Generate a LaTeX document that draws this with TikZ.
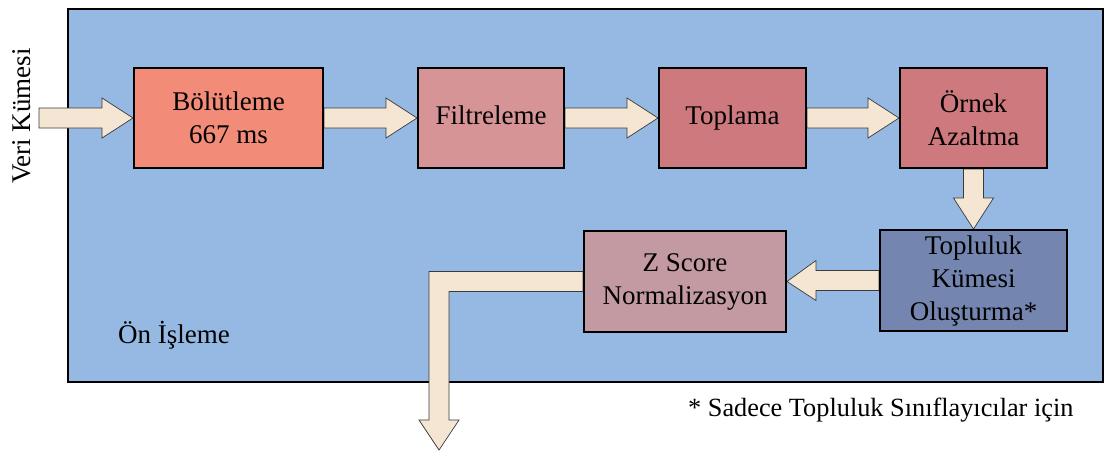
\documentclass[tikz,border=0pt]{standalone}
\usepackage{fontspec}
\setmainfont{Liberation Serif}
\usetikzlibrary{calc}

\pgfdeclarelayer{panel}
\pgfdeclarelayer{flow}
\pgfsetlayers{panel,flow,main}

\definecolor{panelblue}{HTML}{95B9E2}
\definecolor{segcol}{HTML}{F28C78}
\definecolor{filtcol}{HTML}{D79497}
\definecolor{sumcol}{HTML}{CD797E}
\definecolor{enscol}{HTML}{7486B0}
\definecolor{zcol}{HTML}{C49AA2}
\definecolor{flowfill}{HTML}{F5E6D3}
\definecolor{flowline}{HTML}{3A3A3A}

\tikzset{
  stage/.style={draw=black, line width=2pt, inner sep=0pt, align=center,
    minimum height=100pt, font=\fontsize{27}{33}\selectfont},
  label/.style={inner sep=0pt, font=\fontsize{27}{33}\selectfont},
  barrow/.style={draw=flowline, line width=0.7pt, fill=flowfill, line join=miter}
}

% block arrows: shaft 20pt wide, head 40pt wide
\newcommand\arrowright[2]{%
  \draw[barrow] let \p1=(#1), \p2=(#2) in
    (\x1,\y1+10pt) -- (\x2-31pt,\y1+10pt) -- (\x2-31pt,\y1+20pt) -- (\x2,\y2)
    -- (\x2-31pt,\y1-20pt) -- (\x2-31pt,\y1-10pt) -- (\x1,\y1-10pt) -- cycle;}
\newcommand\arrowleft[2]{%
  \draw[barrow] let \p1=(#1), \p2=(#2) in
    (\x1,\y1+10pt) -- (\x2+29pt,\y1+10pt) -- (\x2+29pt,\y1+20pt) -- (\x2,\y2)
    -- (\x2+29pt,\y1-20pt) -- (\x2+29pt,\y1-10pt) -- (\x1,\y1-10pt) -- cycle;}
\newcommand\arrowdown[2]{%
  \draw[barrow] let \p1=(#1), \p2=(#2) in
    (\x1-10pt,\y1) -- (\x1-10pt,\y2+31pt) -- (\x1-20pt,\y2+31pt) -- (\x2,\y2)
    -- (\x1+20pt,\y2+31pt) -- (\x1+10pt,\y2+31pt) -- (\x1+10pt,\y1) -- cycle;}

\begin{document}
\begin{tikzpicture}[x=1pt, y=-1pt]
\useasboundingbox (0,0) rectangle (1105,451);

% processing stages
\node[stage, fill=segcol,  minimum width=189pt] (seg)   at (228.5,118) {Bölütleme\\667 ms};
\node[stage, fill=filtcol, minimum width=146pt] (filt)  at (491,118)   {\strut Filtreleme};
\node[stage, fill=sumcol,  minimum width=147pt] (sum)   at (732.5,118) {\strut Toplama};
\node[stage, fill=sumcol,  minimum width=147pt] (down)  at (973.5,118) {Örnek\\Azaltma};
\node[stage, fill=enscol,  minimum width=187pt, minimum height=101pt] (ens) at (973.5,280.5) {Topluluk\\Kümesi\\Oluşturma*};
\node[stage, fill=zcol,    minimum width=202pt, minimum height=101pt] (zs)  at (685,281.5)   {Z Score\\Normalizasyon};

% labels
\node[label, rotate=90] (data) at (22,116) {Veri Kümesi};
\node[label, anchor=base west] (pre) at (118,343) {Ön İşleme};
\node[label, anchor=base west, font=\fontsize{26.3}{32}\selectfont] (note) at (688,416) {* Sadece Topluluk Sınıflayıcılar için};

\coordinate (src) at (39,118);
\coordinate (exit) at (439,450);

% preprocessing panel
\begin{pgfonlayer}{panel}
  \draw[line width=2.2pt, fill=panelblue] (68,9) rectangle (1103,382);
\end{pgfonlayer}

% data flow
\begin{pgfonlayer}{flow}
  \arrowright{src}{seg.west}
  \arrowright{seg.east}{filt.west}
  \arrowright{filt.east}{sum.west}
  \arrowright{sum.east}{down.west}
  \arrowdown{down.south}{ens.north}
  \arrowleft{ens.west}{zs.east}
  \draw[barrow] let \p1=(zs.west), \p2=(exit) in
    (\x1,\y1+10pt) -- (\x2-10pt,\y1+10pt) -- (\x2-10pt,\y2+30pt) -- (\x2-20pt,\y2+30pt)
    -- (\x2,\y2) -- (\x2+20pt,\y2+30pt) -- (\x2+10pt,\y2+30pt) -- (\x2+10pt,\y1-10pt)
    -- (\x1,\y1-10pt) -- cycle;
\end{pgfonlayer}
\end{tikzpicture}
\end{document}
